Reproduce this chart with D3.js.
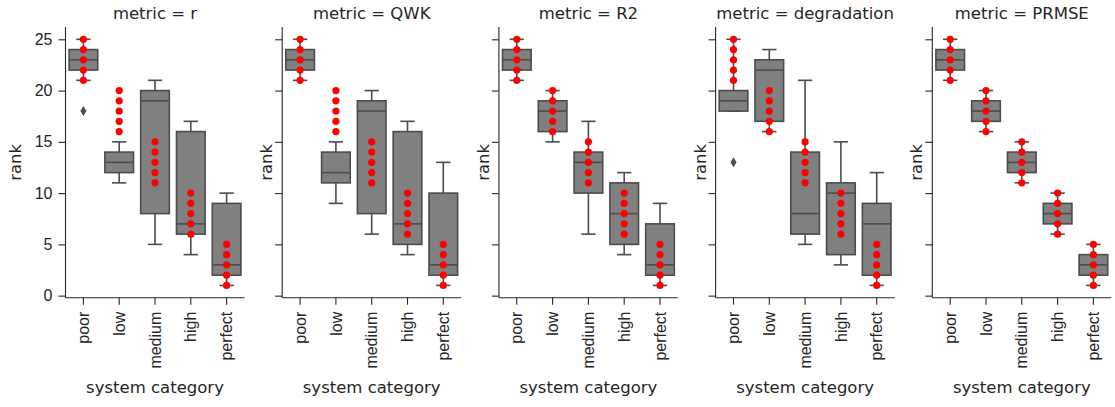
<!DOCTYPE html>
<html>
<head>
<meta charset="utf-8">
<script src="https://cdn.jsdelivr.net/npm/d3@7"></script>
<style>
    body { margin: 0; background: #fff; }
    svg { display: block; font-family: "DejaVu Sans", sans-serif; }
    .axis path, .axis line { stroke: #262626; stroke-width: 1.1; }
    .axis text { fill: #262626; font-size: 16px; }
</style>
</head>
<body>
<div id="chart"></div>
<script>
// facet grid: one panel per metric, boxes + strip of ranks per system category

const categories = ['poor', 'low', 'medium', 'high', 'perfect'];
const metrics = ['r', 'QWK', 'R2', 'degradation', 'PRMSE'];
const yTicks = [0, 5, 10, 15, 20, 25];

// box stats per category: [whisker low, q1, median, q3, whisker high]
const boxesR = [[21, 22, 23, 24, 25], [11, 12, 13, 14, 15], [5, 8, 19, 20, 21], [4, 6, 7, 16, 17], [1, 2, 3, 9, 10]];
const boxesQWK = [[21, 22, 23, 24, 25], [9, 11, 12, 14, 15], [6, 8, 18, 19, 20], [4, 5, 7, 16, 17], [1, 2, 3, 10, 13]];
const boxesR2 = [[21, 22, 23, 24, 25], [15, 16, 18, 19, 20], [6, 10, 13, 14, 17], [4, 5, 8, 11, 12], [1, 2, 3, 7, 9]];
const boxesDegradation = [[18, 18, 19, 20, 25], [16, 17, 22, 23, 24], [5, 6, 8, 14, 21], [3, 4, 10, 11, 15], [1, 2, 7, 9, 12]];
const boxesPRMSE = [[21, 22, 23, 24, 25], [16, 17, 18, 19, 20], [11, 12, 13, 14, 15], [6, 7, 8, 9, 10], [1, 2, 3, 4, 5]];

// outliers per category (fliers)
const outliersR = [[18], [], [], [], []];
const outliersQWK = [[], [], [], [], []];
const outliersR2 = [[], [], [], [], []];
const outliersDegradation = [[13], [], [], [], []];
const outliersPRMSE = [[], [], [], [], []];

// red strip points: ranks of the systems in each category
const pointRanks = [[21, 22, 23, 24, 25], [16, 17, 18, 19, 20], [11, 12, 13, 14, 15], [6, 7, 8, 9, 10], [1, 2, 3, 4, 5]];

const boxSets = [boxesR, boxesQWK, boxesR2, boxesDegradation, boxesPRMSE];
const outlierSets = [outliersR, outliersQWK, outliersR2, outliersDegradation, outliersPRMSE];

const width = 1115, height = 407;
const panelLeft = 65.5, panelStep = 216.7, panelW = 179;
const yTop = 27, yBottom = 297.7;

const svg = d3.select('#chart').append('svg')
    .attr('width', width).attr('height', height);

const yScale = d3.scaleLinear().domain([-0.2, 26.2]).range([yBottom, yTop]);

const BOX_FILL = '#808080';
const LINE = '#4c4c4c';

metrics.forEach((metric, m) => {
    const x0 = panelLeft + m * panelStep;
    const g = svg.append('g').attr('transform', `translate(${x0},0)`);

    const xScale = d3.scaleBand().domain(categories).range([0, panelW]);
    const bw = xScale.bandwidth();
    const boxW = bw * 0.8;
    const capW = boxW * 0.5;
    const cx = c => xScale(c) + bw / 2;

    // boxes
    boxSets[m].forEach((s, i) => {
        const c = categories[i];
        const [lo, q1, med, q3, hi] = s;
        const bx = cx(c);
        const bg = g.append('g');
        // whiskers
        bg.append('line')
            .attr('x1', bx).attr('x2', bx)
            .attr('y1', yScale(q3)).attr('y2', yScale(hi))
            .attr('stroke', LINE).attr('stroke-width', 1.6);
        bg.append('line')
            .attr('x1', bx).attr('x2', bx)
            .attr('y1', yScale(q1)).attr('y2', yScale(lo))
            .attr('stroke', LINE).attr('stroke-width', 1.6);
        // caps
        [lo, hi].forEach(v => {
            bg.append('line')
                .attr('x1', bx - capW / 2).attr('x2', bx + capW / 2)
                .attr('y1', yScale(v)).attr('y2', yScale(v))
                .attr('stroke', LINE).attr('stroke-width', 1.6);
        });
        // box
        bg.append('rect')
            .attr('x', bx - boxW / 2)
            .attr('y', yScale(q3))
            .attr('width', boxW)
            .attr('height', yScale(q1) - yScale(q3))
            .attr('fill', BOX_FILL)
            .attr('stroke', LINE).attr('stroke-width', 1.6);
        // median
        bg.append('line')
            .attr('x1', bx - boxW / 2).attr('x2', bx + boxW / 2)
            .attr('y1', yScale(med)).attr('y2', yScale(med))
            .attr('stroke', LINE).attr('stroke-width', 1.6);
        // fliers (thin diamonds)
        outlierSets[m][i].forEach(v => {
            const y = yScale(v);
            bg.append('path')
                .attr('d', `M${bx},${y - 5}L${bx + 3},${y}L${bx},${y + 5}L${bx - 3},${y}Z`)
                .attr('fill', LINE);
        });
    });

    // strip points
    pointRanks.forEach((ranks, i) => {
        g.selectAll(null)
            .data(ranks)
            .join('circle')
            .attr('cx', cx(categories[i]))
            .attr('cy', d => yScale(d))
            .attr('r', 3.6)
            .attr('fill', '#ff0000');
    });

    // axes
    const yAxis = d3.axisLeft(yScale).tickValues(yTicks).tickSize(7).tickPadding(6);
    if (m > 0) yAxis.tickFormat('');
    g.append('g').attr('class', 'axis').call(yAxis)
        .call(a => a.select('.domain').attr('d', `M0,${yTop}V${yBottom}`));

    const xAxis = g.append('g').attr('class', 'axis')
        .attr('transform', `translate(0,${yBottom})`)
        .call(d3.axisBottom(xScale).tickSize(7).tickPadding(5));
    xAxis.select('.domain').attr('d', `M0,0H${panelW}`);
    xAxis.selectAll('text')
        .attr('transform', 'rotate(-90)')
        .attr('text-anchor', 'end')
        .attr('x', -14)
        .attr('y', 0)
        .attr('dy', '0.35em');

    // title
    g.append('text')
        .attr('x', panelW / 2).attr('y', 19)
        .attr('text-anchor', 'middle')
        .style('font-size', '16.5px').style('fill', '#262626')
        .text(`metric = ${metric}`);

    // axis labels
    g.append('text')
        .attr('transform', `translate(${m === 0 ? -45 : -10},${(yTop + yBottom) / 2}) rotate(-90)`)
        .attr('text-anchor', 'middle')
        .style('font-size', '16.5px').style('fill', '#262626')
        .text('rank');

    g.append('text')
        .attr('x', panelW / 2).attr('y', 393)
        .attr('text-anchor', 'middle')
        .style('font-size', '16.5px').style('fill', '#262626')
        .text('system category');
});
</script>
</body>
</html>
